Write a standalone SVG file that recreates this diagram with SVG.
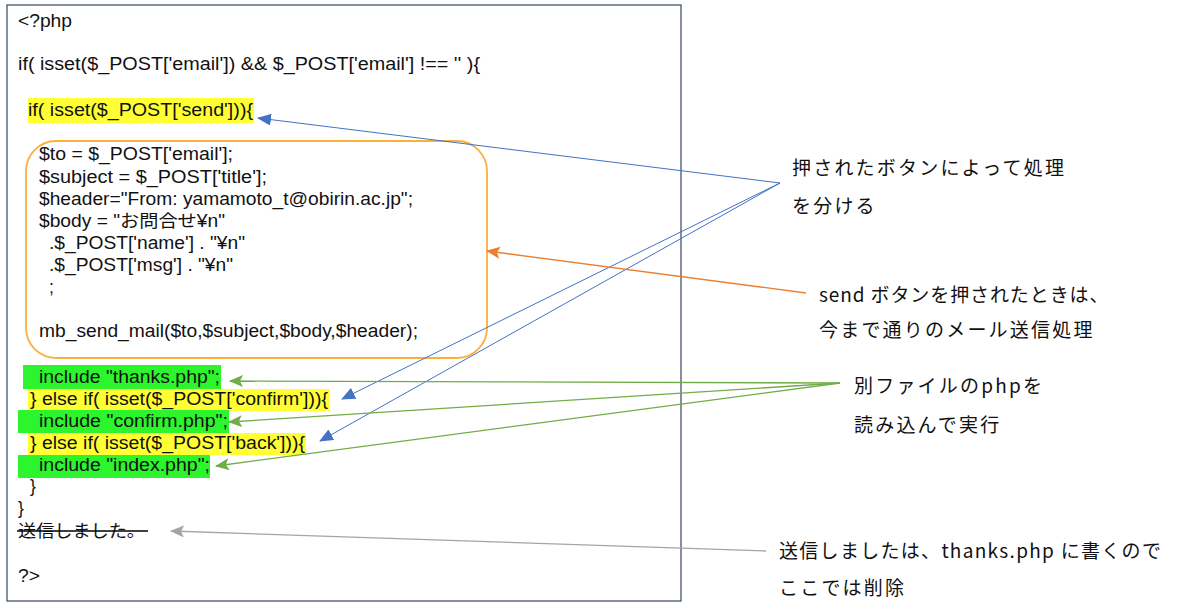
<svg xmlns="http://www.w3.org/2000/svg" width="1188" height="605" viewBox="0 0 1188 605">
<defs>
<style>
.code{font-family:"Liberation Sans","Noto Sans CJK JP",sans-serif;font-size:17.5px;fill:#111;}
.note{font-family:"Noto Sans CJK JP","Noto Sans",sans-serif;font-size:19px;fill:#111;letter-spacing:2.2px;}
.blue{stroke:#4472C4;stroke-width:1;fill:none;}
.green{stroke:#70AD47;stroke-width:1.3;fill:none;}
.orange{stroke:#ED7D31;stroke-width:1.3;fill:none;}
.grey{stroke:#A5A5A5;stroke-width:1.3;fill:none;}
</style>
<marker id="mb" markerUnits="userSpaceOnUse" markerWidth="14" markerHeight="12" refX="13" refY="6" orient="auto"><path d="M0,0 L14,6 L0,12 z" fill="#4472C4"/></marker>
<marker id="mg" markerUnits="userSpaceOnUse" markerWidth="14" markerHeight="12" refX="13" refY="6" orient="auto"><path d="M0,0 L14,6 L0,12 L3,6 z" fill="#70AD47"/></marker>
<marker id="mo" markerUnits="userSpaceOnUse" markerWidth="14" markerHeight="12" refX="13" refY="6" orient="auto"><path d="M0,0 L14,6 L0,12 L3,6 z" fill="#ED7D31"/></marker>
<marker id="mgr" markerUnits="userSpaceOnUse" markerWidth="14" markerHeight="12" refX="13" refY="6" orient="auto"><path d="M0,0 L14,6 L0,12 L3,6 z" fill="#A5A5A5"/></marker>
</defs>
<rect width="1188" height="605" fill="#fff"/>
<g id="code-box">
<rect x="7" y="5" width="674" height="596" fill="#fff" stroke="#44546A" stroke-width="1.3"/>
<rect x="28" y="98" width="226" height="25" fill="#FFFF33"/>
<rect x="23" y="365" width="198" height="24" fill="#2DF52D"/>
<rect x="28" y="389" width="302" height="22" fill="#FFFF33"/>
<rect x="18" y="410" width="211" height="23" fill="#2DF52D"/>
<rect x="28" y="433" width="278" height="22" fill="#FFFF33"/>
<rect x="18" y="455" width="192" height="23" fill="#2DF52D"/>
<text class="code" x="18" y="27" textLength="54" lengthAdjust="spacingAndGlyphs">&lt;?php</text>
<text class="code" x="18" y="70" textLength="462" lengthAdjust="spacingAndGlyphs">if( isset($_POST['email']) &amp;&amp; $_POST['email'] !== '' ){</text>
<text class="code" x="28" y="116" textLength="225" lengthAdjust="spacingAndGlyphs">if( isset($_POST['send'])){</text>
<text class="code" x="39" y="383" textLength="181" lengthAdjust="spacingAndGlyphs">include "thanks.php";</text>
<text class="code" x="30" y="405" textLength="298" lengthAdjust="spacingAndGlyphs">} else if( isset($_POST['confirm'])){</text>
<text class="code" x="39" y="427" textLength="189" lengthAdjust="spacingAndGlyphs">include "confirm.php";</text>
<text class="code" x="30" y="449" textLength="275" lengthAdjust="spacingAndGlyphs">} else if( isset($_POST['back'])){</text>
<text class="code" x="39" y="471" textLength="171" lengthAdjust="spacingAndGlyphs">include "index.php";</text>
<text class="code" x="30" y="492">}</text>
<text class="code" x="18" y="514">}</text>
<text class="code" x="18" y="537" textLength="127" lengthAdjust="spacingAndGlyphs">送信しました。</text>
<line x1="17" y1="531" x2="148" y2="531" stroke="#000" stroke-width="1.6"/>
<text class="code" x="18" y="582" textLength="22" lengthAdjust="spacingAndGlyphs">?&gt;</text>
</g>
<g id="send-block">
<rect x="26" y="141" width="461" height="217" rx="30" ry="30" fill="none" stroke="#FBB03B" stroke-width="1.8"/>
<text class="code" x="39" y="160" textLength="194" lengthAdjust="spacingAndGlyphs">$to = $_POST['email'];</text>
<text class="code" x="39" y="183" textLength="228" lengthAdjust="spacingAndGlyphs">$subject = $_POST['title'];</text>
<text class="code" x="39" y="205" textLength="374" lengthAdjust="spacingAndGlyphs">$header="From: yamamoto_t@obirin.ac.jp";</text>
<text class="code" x="39" y="227" textLength="186" lengthAdjust="spacingAndGlyphs">$body = "お問合せ¥n"</text>
<text class="code" x="49" y="249" textLength="196" lengthAdjust="spacingAndGlyphs">.$_POST['name'] . "¥n"</text>
<text class="code" x="49" y="271" textLength="184" lengthAdjust="spacingAndGlyphs">.$_POST['msg'] . "¥n"</text>
<text class="code" x="49" y="293">;</text>
<text class="code" x="39" y="337" textLength="379" lengthAdjust="spacingAndGlyphs">mb_send_mail($to,$subject,$body,$header);</text>
</g>
<g id="note-branch">
<text class="note" x="792" y="175">押されたボタンによって処理</text>
<text class="note" x="792" y="213">を分ける</text>
</g>
<g id="note-send">
<text class="note" x="819" y="302" style="letter-spacing:0.9px">send ボタンを押されたときは、</text>
<text class="note" x="819" y="337">今まで通りのメール送信処理</text>
</g>
<g id="note-include">
<text class="note" x="854" y="393">別ファイルのphpを</text>
<text class="note" x="854" y="432">読み込んで実行</text>
</g>
<g id="note-delete">
<text class="note" x="779" y="558" style="letter-spacing:1.3px">送信しましたは、thanks.php に書くので</text>
<text class="note" x="779" y="595">ここでは削除</text>
</g>
<g id="connectors">
<line class="blue" x1="780" y1="183" x2="258" y2="118" marker-end="url(#mb)"/>
<line class="blue" x1="780" y1="183" x2="342" y2="399" marker-end="url(#mb)"/>
<line class="blue" x1="780" y1="183" x2="320" y2="441" marker-end="url(#mb)"/>
<line class="orange" x1="806" y1="293" x2="487" y2="251" marker-end="url(#mo)"/>
<line class="green" x1="840" y1="383" x2="230" y2="381" marker-end="url(#mg)"/>
<line class="green" x1="840" y1="383" x2="229" y2="422" marker-end="url(#mg)"/>
<line class="green" x1="840" y1="383" x2="216" y2="466" marker-end="url(#mg)"/>
<line class="grey" x1="766" y1="551" x2="171" y2="531" marker-end="url(#mgr)"/>
</g>
</svg>
